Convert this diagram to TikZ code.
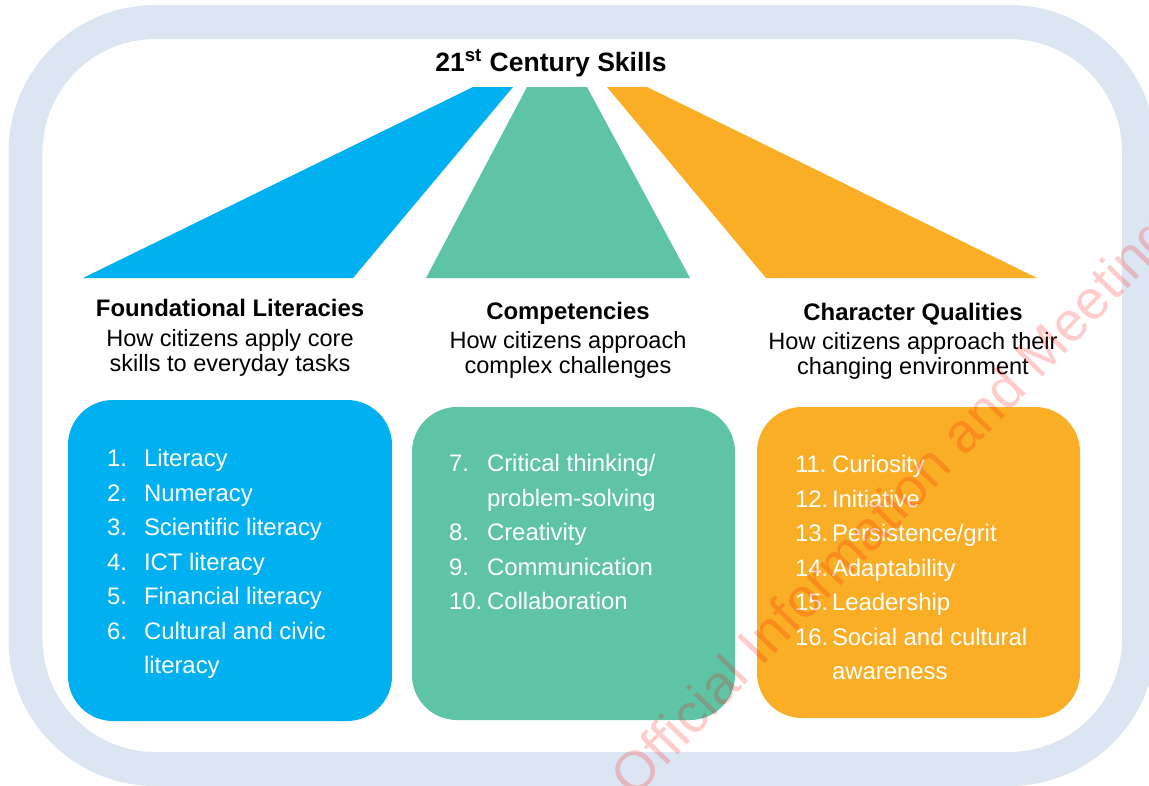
\documentclass[tikz,border=0pt]{standalone}
\usepackage{fontspec}
\setmainfont{Liberation Sans}
\definecolor{framegrey}{HTML}{DCE6F2}
\definecolor{litblue}{HTML}{00B0F0}
\definecolor{compgreen}{HTML}{5FC4A6}
\definecolor{charorange}{HTML}{F9AE25}
\newcommand\listfont{\fontsize{13.6}{16}\selectfont}

\begin{document}
\begin{tikzpicture}[x=0.02cm, y=-0.02cm,
	every node/.style={inner sep=0pt, outer sep=0pt},
	head/.style={anchor=base, font=\fontsize{13.6}{16}\selectfont\bfseries},
	sub/.style={anchor=base, font=\fontsize{13.4}{16}\selectfont},
	num/.style={anchor=base west, text=white, font=\listfont},
	entry/.style={anchor=base west, text=white, font=\listfont}]
				\useasboundingbox (0,0) rectangle (1149,785);
				\clip (0,0) rectangle (1149,785);
				\fill[white] (0,0) rectangle (1149,785);
				
				\draw[framegrey, line width=0.68cm, rounded corners=2.6cm] (25.5,22) rectangle (1139,769);
				
				\node[anchor=base, font=\fontsize{15.1}{18}\selectfont\bfseries] (title) at (551,71) {21\textsuperscript{st} Century Skills};
				
				\fill[litblue] (83,278) -- (473,87) -- (513,87) -- (353,278) -- cycle;
				\fill[compgreen] (426,278) -- (527,87) -- (587,87) -- (690,278) -- cycle;
				\fill[charorange] (766,278) -- (607,87) -- (647,87) -- (1037,278) -- cycle;
				
				\node[head] (found) at (230,316) {Foundational Literacies};
				\node[sub] (found1) at (230,346) {How citizens apply core};
				\node[sub] (found2) at (230,371) {skills to everyday tasks};
				
				\node[head] (comp) at (568,319) {Competencies};
				\node[sub] (comp1) at (568,348) {How citizens approach};
				\node[sub] (comp2) at (568,373) {complex challenges};
				
				\node[head] (char) at (913,320) {Character Qualities};
				\node[sub] (char1) at (913,349) {How citizens approach their};
				\node[sub] (char2) at (913,374) {changing environment};
				
				\fill[litblue, rounded corners=0.9cm] (68,400) rectangle (392,721);
				\fill[compgreen, rounded corners=0.9cm] (412,407) rectangle (735,720);
				\fill[charorange, rounded corners=0.9cm] (757,407) rectangle (1080,718);
				
				\node[num] (n1) at (107,466) {1.};
				\node[entry] (e1) at (144,466) {Literacy};
				\node[num] (n2) at (107,501) {2.};
				\node[entry] (e2) at (144,501) {Numeracy};
				\node[num] (n3) at (107,535) {3.};
				\node[entry] (e3) at (144,535) {Scientific literacy};
				\node[num] (n4) at (107,570) {4.};
				\node[entry] (e4) at (144,570) {ICT literacy};
				\node[num] (n5) at (107,604) {5.};
				\node[entry] (e5) at (144,604) {Financial literacy};
				\node[num] (n6) at (107,639) {6.};
				\node[entry] (e6) at (144,639) {Cultural and civic};
				\node[entry] (e6b) at (144,673) {literacy};
				
				\node[num] (n7) at (449,471) {7.};
				\node[entry] (e7) at (487,471) {Critical thinking/};
				\node[entry] (e7b) at (487,506) {problem-solving};
				\node[num] (n8) at (449,540) {8.};
				\node[entry] (e8) at (487,540) {Creativity};
				\node[num] (n9) at (449,575) {9.};
				\node[entry] (e9) at (487,575) {Communication};
				\node[num] (n10) at (449,609) {10.};
				\node[entry] (e10) at (487,609) {Collaboration};
				
				\node[num] (n11) at (795,472) {11.};
				\node[entry] (e11) at (832,472) {Curiosity};
				\node[num] (n12) at (795,507) {12.};
				\node[entry] (e12) at (832,507) {Initiative};
				\node[num] (n13) at (795,541) {13.};
				\node[entry] (e13) at (832,541) {Persistence/grit};
				\node[num] (n14) at (795,576) {14.};
				\node[entry] (e14) at (832,576) {Adaptability};
				\node[num] (n15) at (795,610) {15.};
				\node[entry] (e15) at (832,610) {Leadership};
				\node[num] (n16) at (795,645) {16.};
				\node[entry] (e16) at (832,645) {Social and cultural};
				\node[entry] (e16b) at (832,679) {awareness};
				
				\node[rotate=46, anchor=west, text=red, opacity=0.2, font=\fontsize{31.5}{34}\selectfont] (mark) at (624,790) {Official Information and Meeting};
			\end{tikzpicture}
\end{document}
